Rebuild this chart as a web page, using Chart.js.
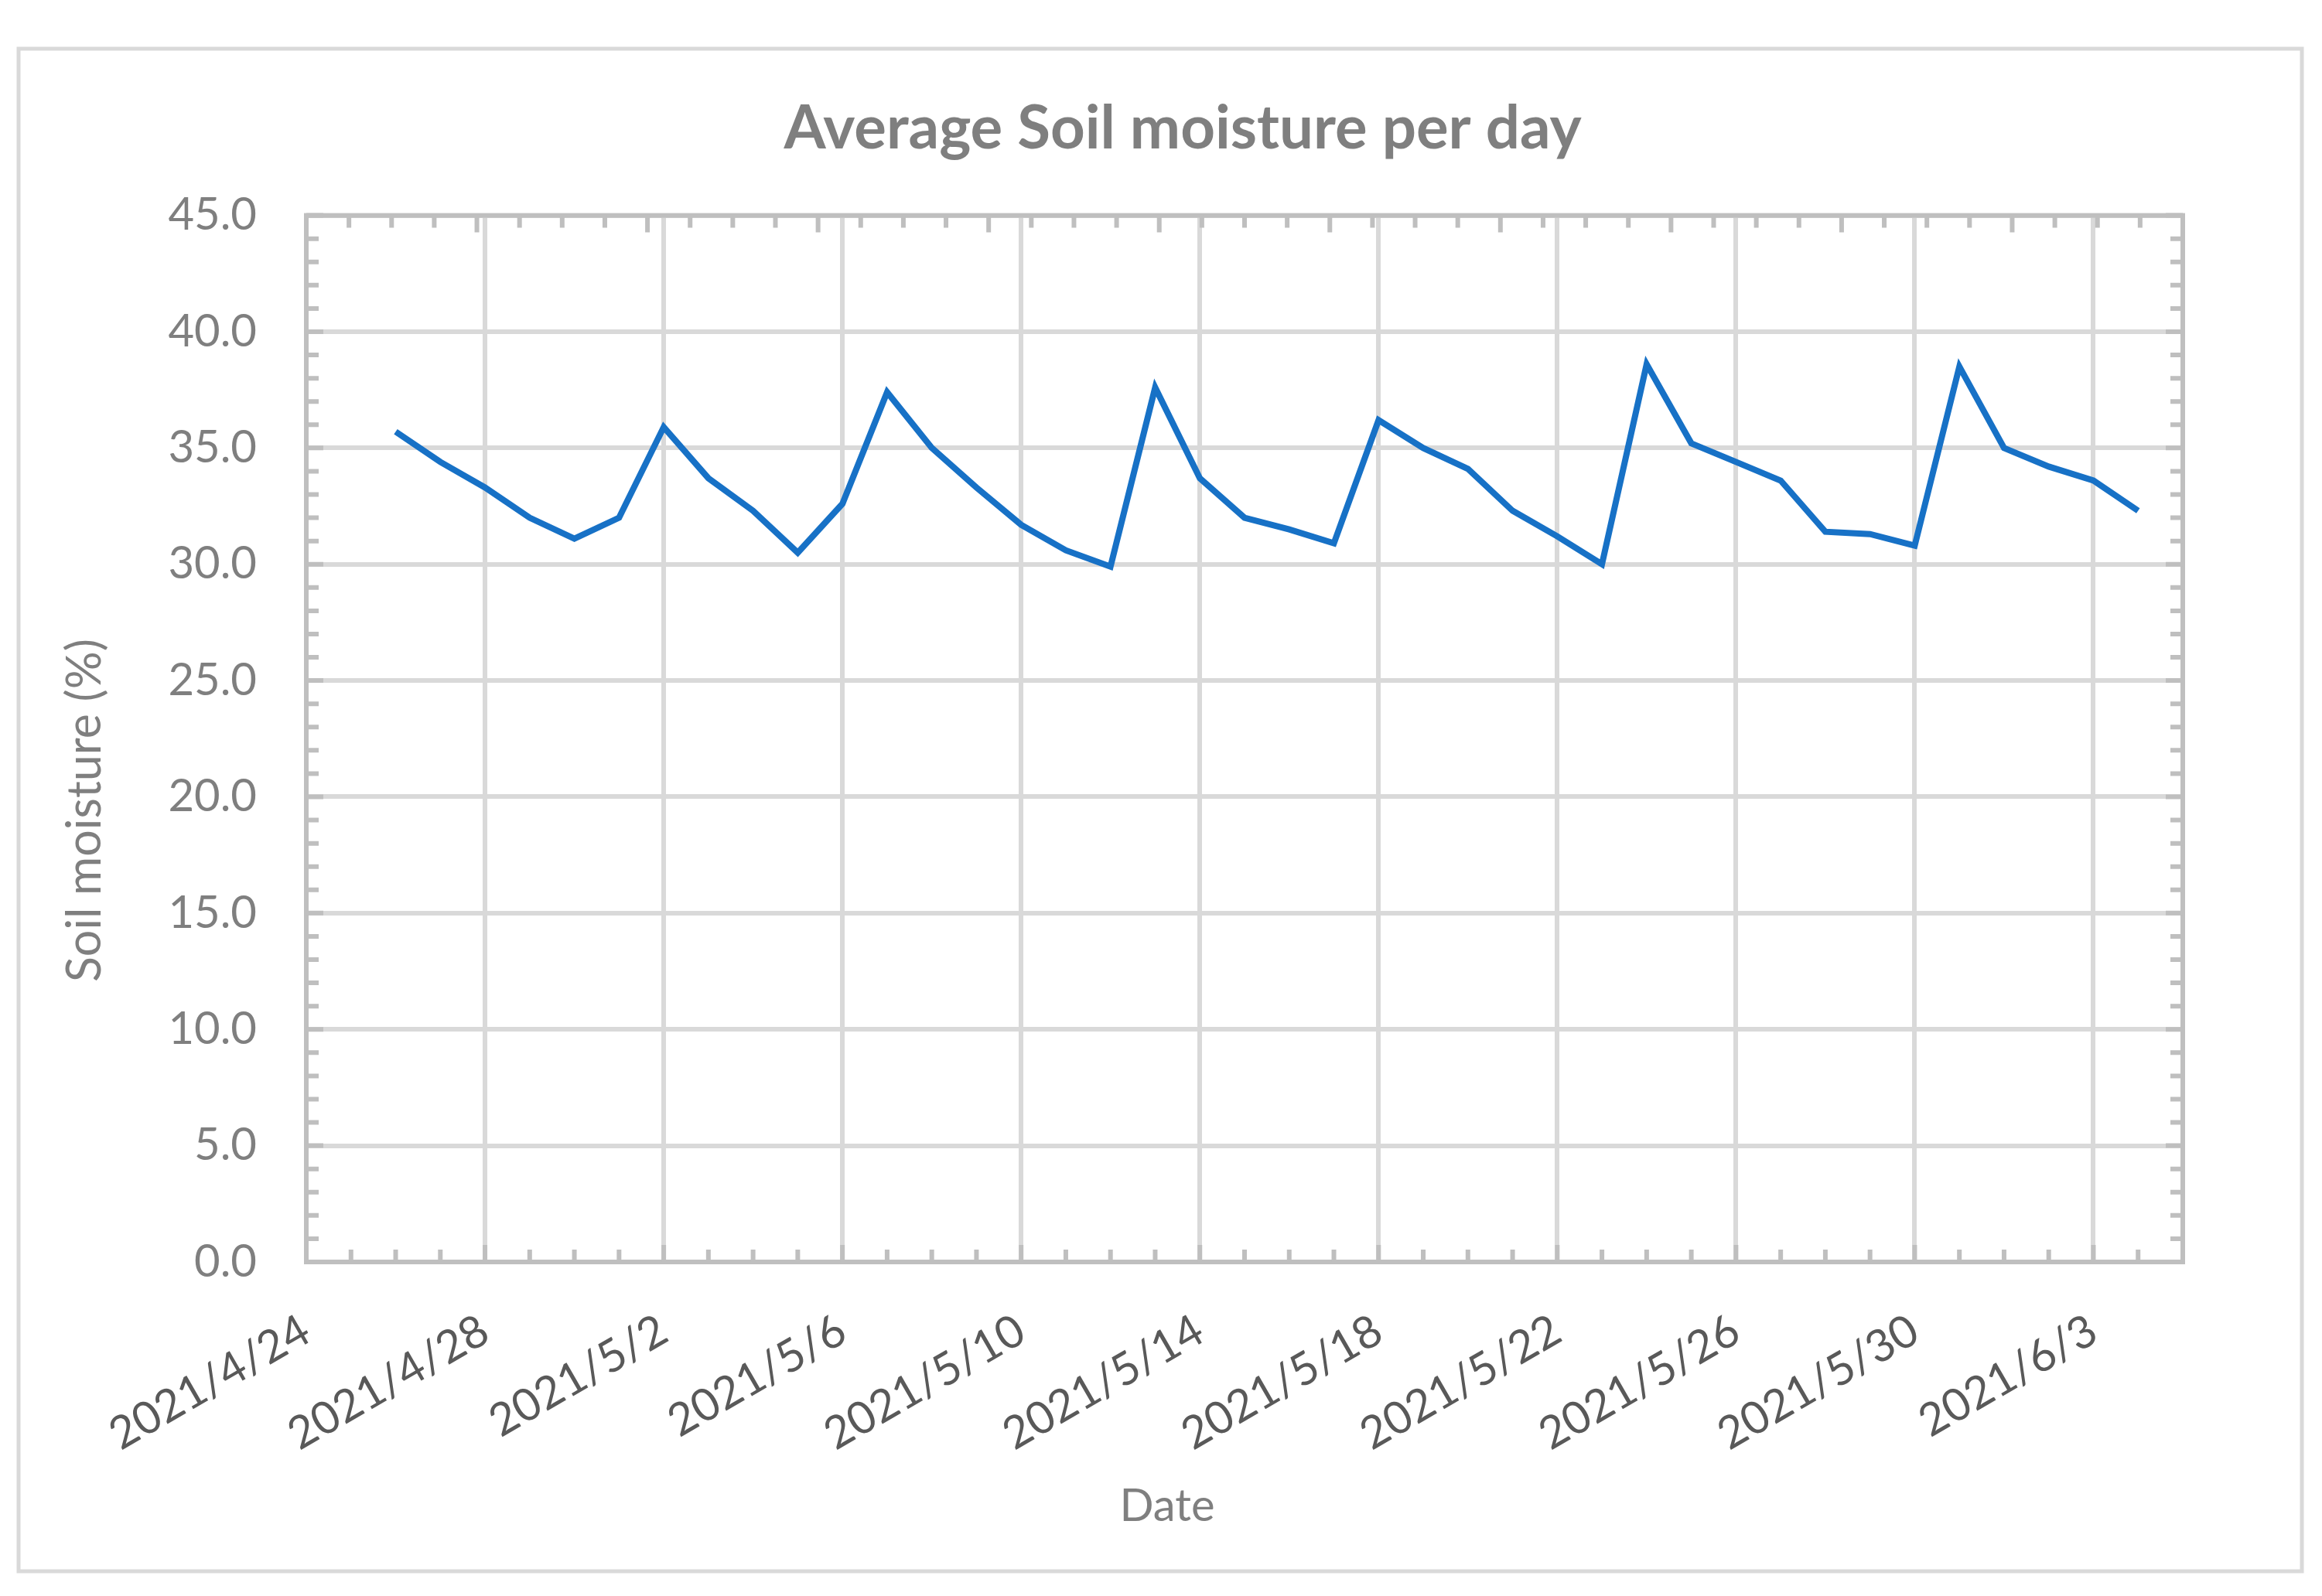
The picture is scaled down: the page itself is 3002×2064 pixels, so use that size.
<!DOCTYPE html>
<html>
<head>
<meta charset="utf-8">
<script src="https://cdn.jsdelivr.net/npm/chart.js@4.4.1/dist/chart.umd.min.js"></script>
<style>
  html, body { margin: 0; padding: 0; background: #fff; }
  canvas { display: block; }
</style>
</head>
<body>
<canvas id="c" width="3002" height="2064"></canvas>
<script>
// ── Data ──────────────────────────────────────────────────────────────────────

const dates = [
  '2021/4/26','2021/4/27','2021/4/28','2021/4/29','2021/4/30','2021/5/1','2021/5/2','2021/5/3',
  '2021/5/4','2021/5/5','2021/5/6','2021/5/7','2021/5/8','2021/5/9','2021/5/10','2021/5/11',
  '2021/5/12','2021/5/13','2021/5/14','2021/5/15','2021/5/16','2021/5/17','2021/5/18','2021/5/19',
  '2021/5/20','2021/5/21','2021/5/22','2021/5/23','2021/5/24','2021/5/25','2021/5/26','2021/5/27',
  '2021/5/28','2021/5/29','2021/5/30','2021/5/31','2021/6/1','2021/6/2','2021/6/3','2021/6/4'
];
const moisture = [
  35.7, 34.4, 33.3, 32.0, 31.1, 32.0, 35.9, 33.7,
  32.3, 30.5, 32.6, 37.4, 35.0, 33.3, 31.7, 30.6,
  29.9, 37.6, 33.7, 32.0, 31.5, 30.9, 36.2, 35.0,
  34.1, 32.3, 31.2, 30.0, 38.6, 35.2, 34.4, 33.6,
  31.4, 31.3, 30.8, 38.5, 35.0, 34.2, 33.6, 32.3
];
const xTickLabels = ['2021/4/24','2021/4/28','2021/5/2','2021/5/6','2021/5/10','2021/5/14',
  '2021/5/18','2021/5/22','2021/5/26','2021/5/30','2021/6/3'];
const xEnd = '2021/6/5';
const yTickValues = [0, 5, 10, 15, 20, 25, 30, 35, 40, 45];

const TITLE = 'Average Soil moisture per day';
const X_TITLE = 'Date';
const Y_TITLE = 'Soil moisture (%)';

// ── Helpers ───────────────────────────────────────────────────────────────────

function dayNum(s) {
  const [y, m, d] = s.split('/').map(Number);
  const [y0, m0, d0] = xTickLabels[0].split('/').map(Number);
  return Math.round((Date.UTC(y, m-1, d) - Date.UTC(y0, m0-1, d0)) / 864e5);
}

const FONT = 'Lato';
const GRID = '#D9D9D9', AXIS = '#BFBFBF';

// outer chart border, plot frame with inward ticks, axis titles
const frame = {
  id: 'frame',
  beforeDraw(chart) {
    const ctx = chart.ctx;
    ctx.save();
    ctx.fillStyle = '#fff';
    ctx.fillRect(0, 0, chart.width, chart.height);
    ctx.strokeStyle = GRID;
    ctx.lineWidth = 5;
    ctx.strokeRect(24, 63, 2952, 1969);
    ctx.restore();
  },
  beforeDatasetsDraw(chart) {
    const {ctx, chartArea: a, scales} = chart;
    ctx.save();
    ctx.strokeStyle = AXIS;
    ctx.lineWidth = 6;
    ctx.strokeRect(a.left, a.top, a.right - a.left, a.bottom - a.top);
    ctx.beginPath();
    const y = scales.y;
    for (let v = y.min; v <= y.max; v++) {
      const py = y.getPixelForValue(v), len = v % 5 === 0 ? 22 : 16;
      ctx.moveTo(a.left, py); ctx.lineTo(a.left + len, py);
      ctx.moveTo(a.right, py); ctx.lineTo(a.right - len, py);
    }
    const x = scales.x;
    for (let d = x.min; d <= x.max; d++) {
      const px = x.getPixelForValue(d), len = d % 4 === 0 ? 22 : 16;
      ctx.moveTo(px, a.bottom); ctx.lineTo(px, a.bottom - len);
    }
    const x2 = scales.x2;
    for (let i = x2.min; i <= x2.max; i++) {
      const px = x2.getPixelForValue(i), len = i % 4 === 0 ? 22 : 16;
      ctx.moveTo(px, a.top); ctx.lineTo(px, a.top + len);
    }
    ctx.stroke();
    ctx.restore();
  },
  afterDraw(chart) {
    const ctx = chart.ctx;
    ctx.save();
    ctx.fillStyle = '#7F7F7F';
    ctx.textAlign = 'center';
    ctx.textBaseline = 'alphabetic';
    ctx.font = `58px ${FONT}`;
    ctx.fillText(X_TITLE, 1509, 1967);
    ctx.font = `61px ${FONT}`;
    ctx.translate(130, 1048);
    ctx.rotate(-Math.PI / 2);
    ctx.fillText(Y_TITLE, 0, 0);
    ctx.restore();
  }
};

function draw() {
  new Chart(document.getElementById('c'), {
    type: 'line',
    data: {
      datasets: [{
        data: dates.map((d, i) => ({x: dayNum(d), y: moisture[i]})),
        borderColor: '#1771C6',
        borderWidth: 8,
        pointRadius: 0,
        tension: 0,
        fill: false
      }]
    },
    options: {
      responsive: false,
      animation: false,
      devicePixelRatio: 1,
      layout: {padding: {left: 56, right: 0, top: 0, bottom: 0}},
      plugins: {
        legend: {display: false},
        tooltip: {enabled: false},
        title: {
          display: true,
          text: TITLE,
          color: '#7F7F7F',
          font: {family: FONT, size: 78, weight: 'bold'},
          padding: {top: 120, bottom: 65}
        }
      },
      scales: {
        x: {
          type: 'linear',
          position: 'bottom',
          min: 0,
          max: dayNum(xEnd),
          afterBuildTicks: s => { s.ticks = xTickLabels.map(l => ({value: dayNum(l)})); },
          afterFit: s => { s.height = 432; },
          ticks: {
            autoSkip: false,
            minRotation: 30,
            maxRotation: 30,
            padding: 54,
            color: '#595959',
            font: {family: FONT, size: 58},
            callback: v => xTickLabels.find(l => dayNum(l) === v) || ''
          },
          grid: {color: GRID, lineWidth: 6, drawTicks: false},
          border: {display: false}
        },
        x2: {
          type: 'linear',
          position: 'top',
          min: 0,
          max: 44,
          ticks: {display: false, stepSize: 1},
          grid: {display: false, drawTicks: false},
          border: {display: false},
          afterFit: s => { s.height = 0; }
        },
        y: {
          type: 'linear',
          position: 'left',
          min: 0,
          max: 45,
          afterBuildTicks: s => { s.ticks = yTickValues.map(v => ({value: v})); },
          afterFit: s => { s.width = 340; },
          ticks: {
            padding: 64,
            color: '#7F7F7F',
            font: {family: FONT, size: 58},
            callback: v => v.toFixed(1)
          },
          grid: {color: GRID, lineWidth: 6, drawTicks: false},
          border: {display: false}
        },
        y2: {
          type: 'linear',
          position: 'right',
          min: 0,
          max: 45,
          ticks: {display: false},
          grid: {display: false, drawTicks: false},
          border: {display: false},
          afterFit: s => { s.width = 180; }
        }
      }
    },
    plugins: [frame]
  });
}

document.fonts.load(`58px ${FONT}`).then(() => document.fonts.load(`bold 78px ${FONT}`)).then(draw, draw);
</script>
</body>
</html>
